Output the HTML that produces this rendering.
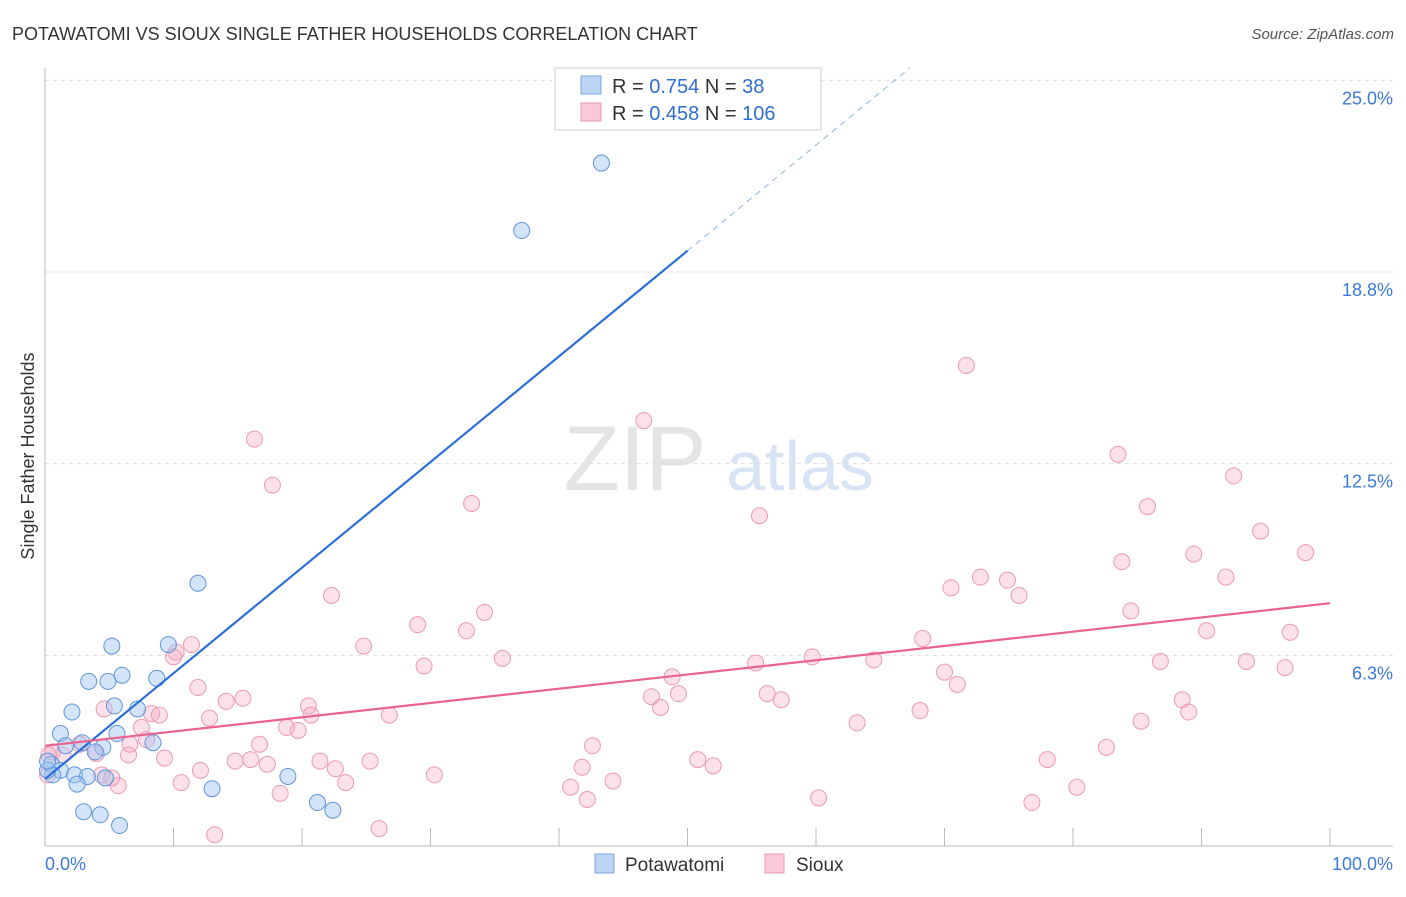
<!DOCTYPE html>
<html><head><meta charset="utf-8"><style>
body{margin:0;background:#fff;font-family:"Liberation Sans",sans-serif;}
svg text{font-family:"Liberation Sans",sans-serif;}
</style></head><body>
<svg id="c" width="1406" height="892" xmlns="http://www.w3.org/2000/svg">
<text x="12" y="40" font-size="18" fill="#333">POTAWATOMI VS SIOUX SINGLE FATHER HOUSEHOLDS CORRELATION CHART</text>
<text x="1394" y="39" font-size="15" fill="#555" font-style="italic" text-anchor="end">Source: ZipAtlas.com</text>
<text x="635" y="490" font-size="92" fill="#e4e4e4" font-family="Liberation Serif" text-anchor="middle">ZIP</text>
<text x="800" y="490" font-size="70" fill="#d6e4f5" text-anchor="middle">atlas</text>
<text transform="translate(34,456) rotate(-90)" font-size="18" fill="#333" text-anchor="middle">Single Father Households</text>
<g id="grid"></g><g id="axes"></g><g id="pts"></g><g id="lines"></g>
<g>
<rect x="555" y="68" width="266" height="62" fill="#fff" stroke="#ccc"/>
<rect x="581" y="76" width="20" height="18" fill="#bcd5f5" stroke="#7aa6e0"/>
<rect x="581" y="103" width="20" height="18" fill="#f9c9d7" stroke="#ec9ab3"/>
<text x="612" y="93" font-size="20" fill="#333">R = <tspan fill="#2f6fd0">0.754</tspan>   N = <tspan fill="#2f6fd0"> 38</tspan></text>
<text x="612" y="120" font-size="20" fill="#333">R = <tspan fill="#2f6fd0">0.458</tspan>   N = <tspan fill="#2f6fd0">106</tspan></text>
</g>
<g>
<rect x="595" y="854" width="19" height="19" fill="#bcd5f5" stroke="#7aa6e0"/>
<text x="625" y="871" font-size="19" fill="#333">Potawatomi</text>
<rect x="765" y="854" width="19" height="19" fill="#f9c9d7" stroke="#ec9ab3"/>
<text x="796" y="871" font-size="19" fill="#333">Sioux</text>
</g>
</svg>
<script>
const yTicks=[6.25,12.5,18.75,25];
const yTickLabels=["6.3%","12.5%","18.8%","25.0%"];
const xTickVals=[10,20,30,40,50,60,70,80,90,100];
const xEndLabels=["0.0%","100.0%"];
const blueX=[43.3,37.1,11.9,5.2,9.6,3.4,4.9,6.0,8.7,5.4,7.2,2.1,1.2,5.6,8.4,1.6,2.9,4.5,3.9,0.5,1.2,0.6,2.3,3.3,4.7,2.5,18.9,13.0,21.2,22.4,3.0,4.3,5.8,0.2,0.2];
const blueY=[22.3,20.1,8.6,6.55,6.6,5.4,5.4,5.6,5.5,4.6,4.5,4.4,3.7,3.7,3.4,3.3,3.4,3.25,3.1,2.7,2.5,2.35,2.35,2.3,2.25,2.05,2.3,1.9,1.45,1.2,1.15,1.05,0.7,2.5,2.8];
const pinkX=[71.7,46.6,16.3,17.7,33.2,55.6,83.5,92.5,85.8,94.6,98.1,89.4,83.8,72.8,74.9,91.9,70.5,75.8,22.3,34.2,29.0,84.5,32.8,90.4,96.9,68.3,11.4,24.8,10.2,10.0,35.6,29.5,59.7,64.5,55.3,86.8,93.5,96.5,70.0,71.0,48.8,11.9,15.4,14.1,47.2,49.3,56.2,57.3,47.9,20.5,4.6,68.1,88.5,89.0,8.3,8.9,20.7,26.8,12.8,63.2,85.3,18.8,19.7,7.5,7.9,16.7,6.6,42.6,82.6,2.7,0.6,9.3,6.5,4.0,1.4,14.8,16.0,17.3,21.4,25.3,50.8,52.0,78.0,41.8,12.1,22.6,30.3,4.4,5.2,10.6,23.4,44.2,5.7,40.9,80.3,18.3,42.2,60.2,76.8,26.0,13.2,0.3,0.2];
const pinkY=[15.7,13.9,13.3,11.8,11.2,10.8,12.8,12.1,11.1,10.3,9.6,9.55,9.3,8.8,8.7,8.8,8.45,8.2,8.2,7.65,7.25,7.7,7.05,7.05,7.0,6.8,6.6,6.55,6.35,6.2,6.15,5.9,6.2,6.1,6.0,6.05,6.05,5.85,5.7,5.3,5.55,5.2,4.85,4.75,4.9,5.0,5.0,4.8,4.55,4.6,4.5,4.45,4.8,4.4,4.35,4.3,4.3,4.3,4.2,4.05,4.1,3.9,3.8,3.9,3.5,3.35,3.35,3.3,3.25,3.35,3.1,2.9,3.0,3.05,3.0,2.8,2.85,2.7,2.8,2.8,2.85,2.65,2.85,2.6,2.5,2.55,2.35,2.35,2.25,2.1,2.1,2.15,2.0,1.95,1.95,1.75,1.55,1.6,1.45,0.6,0.4,3.0,2.35];
const blueLine=[0,2.22,50,19.44,67.3,25.4];
const pinkLine=[0,3.3,100,7.95];
const NS="http://www.w3.org/2000/svg";
const X=v=>45+v*12.85, Y=v=>847-v*30.67;
function mk(p,t,a){const e=document.createElementNS(NS,t);for(const k in a)e.setAttribute(k,a[k]);p.appendChild(e);return e;}
const grid=document.getElementById('grid'),axes=document.getElementById('axes'),pts=document.getElementById('pts'),lines=document.getElementById('lines');
yTicks.forEach((v,i)=>{
 const l=mk(grid,'line',{x1:45,x2:1393,y1:Y(v),y2:Y(v),stroke:'#ddd','stroke-dasharray':'4,4'});
 
 
 const t=mk(grid,'text',{x:1393,y:Y(v)+24,'font-size':18,fill:'#3b7ad8','text-anchor':'end'});t.textContent=yTickLabels[i];
 
 
});
const ya=mk(axes,'line',{x1:45,x2:45,y1:68,y2:846,stroke:'#bbb'});


const xa=mk(axes,'line',{x1:45,x2:1393,y1:846,y2:846,stroke:'#bbb'});


xTickVals.forEach(v=>{const t=mk(axes,'line',{x1:X(v),x2:X(v),y1:828,y2:846,stroke:'#bbb'});
 
 });
const l0=mk(axes,'text',{x:45,y:870,'font-size':18,fill:'#3b7ad8'});l0.textContent=xEndLabels[0];


const l1=mk(axes,'text',{x:1393,y:870,'font-size':18,fill:'#3b7ad8','text-anchor':'end'});l1.textContent=xEndLabels[1];


pinkX.forEach((v,i)=>{const c=mk(pts,'circle',{cx:X(v),cy:Y(pinkY[i]),r:8,fill:'rgba(246,170,195,0.35)',stroke:'#ec9ab3','stroke-width':1});
 
 });
blueX.forEach((v,i)=>{const c=mk(pts,'circle',{cx:X(v),cy:Y(blueY[i]),r:8,fill:'rgba(160,195,240,0.45)',stroke:'#5f95dc','stroke-width':1});
 
 });
const bl=mk(lines,'line',{x1:X(blueLine[0]),y1:Y(blueLine[1]),x2:X(blueLine[2]),y2:Y(blueLine[3]),stroke:'#2c6fd6','stroke-width':2.2});


const bd=mk(lines,'line',{x1:X(blueLine[2]),y1:Y(blueLine[3]),x2:X(blueLine[4]),y2:Y(blueLine[5]),stroke:'#8fb3e6','stroke-width':1,'stroke-dasharray':'6,5'});


const pl=mk(lines,'line',{x1:X(pinkLine[0]),y1:Y(pinkLine[1]),x2:X(pinkLine[2]),y2:Y(pinkLine[3]),stroke:'#e8648d','stroke-width':2.2});


</script>
</body></html>
